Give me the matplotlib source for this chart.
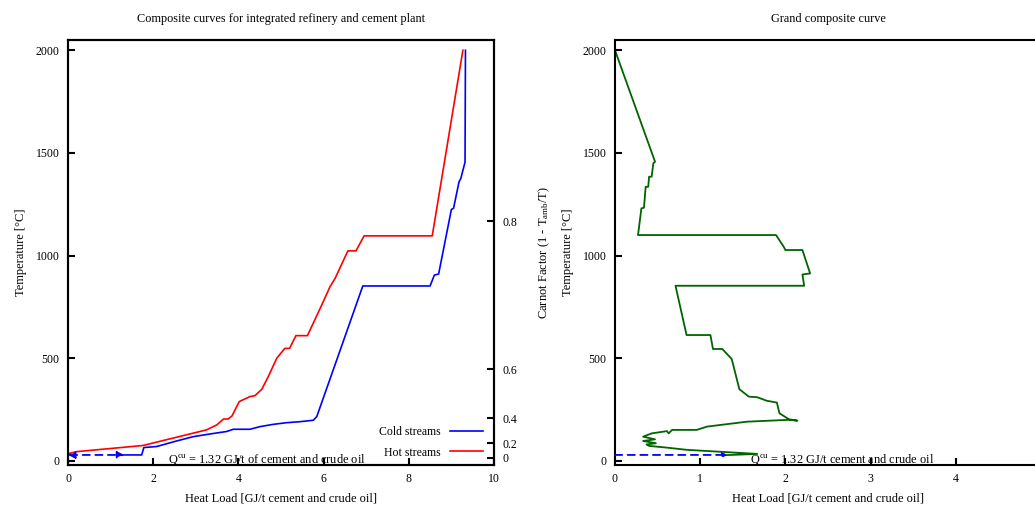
import numpy as np
import matplotlib
matplotlib.use("Agg")
import matplotlib.pyplot as plt

plt.rcParams['font.family'] = ['Liberation Serif', 'DejaVu Serif']
plt.rcParams['mathtext.fontset'] = 'custom'
plt.rcParams['mathtext.rm'] = 'Liberation Serif'
plt.rcParams['mathtext.it'] = 'Liberation Serif:italic'

# hot composite curve [GJ/t, degC]
hot_q = [0.0, 0.2, 1.76, 3.25, 3.49, 3.65, 3.76, 3.85, 4.02, 4.27, 4.39, 4.55, 4.70,
         4.90, 5.09, 5.20, 5.35, 5.62, 5.92, 6.15, 6.27, 6.57, 6.76, 6.95, 8.55, 9.27]
hot_t = [35, 45, 75, 151, 175, 204, 204, 219, 289, 313, 318, 349, 410,
         500, 548, 548, 610, 610, 743, 848, 889, 1023, 1023, 1096, 1096, 2000]

# cold composite curve
cold_q = [1.28, 1.73, 1.78, 2.08, 2.55, 2.94, 3.33, 3.72, 3.88, 4.27, 4.51, 4.82, 5.13,
          5.45, 5.76, 5.84, 6.92, 8.50, 8.60, 8.70, 9.00, 9.05, 9.18, 9.22, 9.32, 9.33]
cold_t = [29, 29, 65, 70, 97, 118, 131, 143, 154, 154, 167, 178, 186,
          191, 198, 216, 852, 852, 905, 910, 1225, 1230, 1360, 1375, 1455, 2000]

# grand composite curve
gcc_q = [0.0, 0.47, 0.45, 0.43, 0.40, 0.39, 0.36, 0.34, 0.31, 0.27, 1.89, 1.98, 2.00,
         2.20, 2.29, 2.20, 2.22, 0.71, 0.84, 1.12, 1.15, 1.26, 1.37, 1.46, 1.57, 1.67,
         1.78, 1.90, 1.93, 2.04, 2.14, 2.04, 1.55, 1.08, 0.96, 0.67, 0.63, 0.61, 0.43,
         0.33, 0.47, 0.33, 0.48, 0.37, 0.40, 0.60, 0.84, 1.67, 1.30]
gcc_t = [2000, 1457, 1450, 1384, 1384, 1335, 1335, 1233, 1230, 1100, 1100, 1043, 1027,
         1027, 913, 908, 853, 853, 613, 613, 545, 545, 496, 349, 313, 310,
         293, 284, 232, 203, 196, 200, 191, 167, 151, 151, 134, 145, 134,
         118, 105, 97, 86, 80, 73, 65, 54, 34, 28]

q_cu = 1.32
t_cu = 29
carnot_ticks = [0, 0.2, 0.4, 0.6, 0.8]
carnot_labels = ['0', '0.2', '0.4', '0.6', '0.8']
t_amb = 15.0

fig = plt.figure(figsize=(10.35, 5.08), dpi=100)
ax1 = fig.add_axes([68/1035, 43/508, 426/1035, 425/508])
ax2 = fig.add_axes([615/1035, 43/508, 426/1035, 425/508])


def style(ax):
    for s in ax.spines.values():
        s.set_linewidth(1.5)
    ax.tick_params(direction='in', length=5, width=1.5, labelsize=8.5, pad=6,
                   top=False, right=False)
    ax.set_ylim(-20, 2050)
    ax.set_yticks([0, 500, 1000, 1500, 2000])
    ax.set_ylabel('Temperature [°C]', fontsize=9, labelpad=6)
    ax.set_xlabel('Heat Load [GJ/t cement and crude oil]', fontsize=9, labelpad=5)


ax1.plot(cold_q, cold_t, color='#0000ff', lw=1.2, label='Cold streams')
ax1.plot(hot_q, hot_t, color='#ff0000', lw=1.2, label='Hot streams')
ax1.annotate('', xy=(q_cu, t_cu), xytext=(0, t_cu),
             arrowprops=dict(arrowstyle='<|-|>', color='#0000ff', lw=1.3,
                             linestyle=(0, (4, 3)), mutation_scale=10,
                             shrinkA=0, shrinkB=0))
ax1.text(2.35, 5, r'Q$^{\mathrm{cu}}$ = 1.32 GJ/t of cement and crude oil',
         fontsize=8.9, va='center')
ax1.set_xlim(0, 10)
ax1.set_xticks([0, 2, 4, 6, 8, 10])
style(ax1)
ax1.set_title('Composite curves for integrated refinery and cement plant',
              fontsize=8.8, pad=13)
ax1.legend(loc='lower right', bbox_to_anchor=(1.0, -0.01), frameon=False,
           markerfirst=False, fontsize=8.5, handlelength=2.8, labelspacing=0.7)

ax1b = ax1.twinx()
ax1b.set_ylim(ax1.get_ylim())
ax1b.set_yticks([(t_amb + 273.15) / (1 - c) - 273.15 for c in carnot_ticks])
ax1b.set_yticklabels(carnot_labels)
ax1b.tick_params(direction='in', length=5, width=1.5, labelsize=8.5, pad=6)
ax1b.set_ylabel(r'Carnot Factor (1 - T$_{\mathrm{amb}}$/T)', fontsize=9, labelpad=14)
for s in ax1b.spines.values():
    s.set_linewidth(1.5)

ax2.plot(gcc_q, gcc_t, color='#006400', lw=1.3)
ax2.annotate('', xy=(q_cu, t_cu), xytext=(0, t_cu),
             arrowprops=dict(arrowstyle='-|>', color='#0000ff', lw=1.3,
                             linestyle=(0, (4, 3)), mutation_scale=7,
                             shrinkA=0, shrinkB=0))
ax2.text(1.59, 5, r'Q$^{\mathrm{cu}}$ = 1.32 GJ/t cement and crude oil',
         fontsize=8.9, va='center')
ax2.set_xlim(0, 5)
ax2.set_xticks([0, 1, 2, 3, 4])
style(ax2)
ax2.set_title('Grand composite curve', fontsize=8.8, pad=13)

fig.savefig('out.png', dpi=100)
